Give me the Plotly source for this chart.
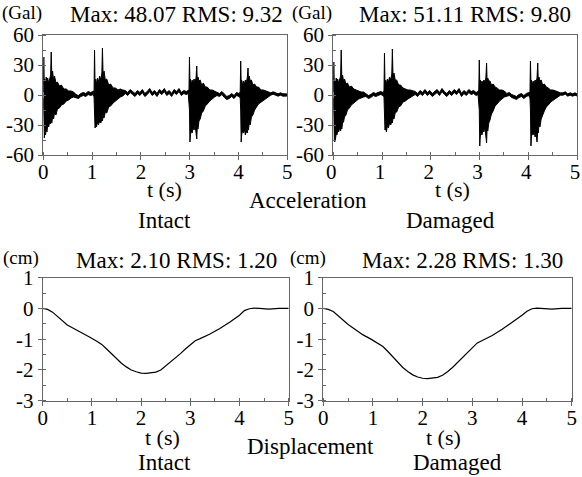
import plotly.graph_objects as go

W, H = 582, 477

# ---------------- acceleration data (envelope of the record, Gal) ----------------
t_b1 = [0.000, 0.010, 0.020, 0.030, 0.045, 0.060, 0.075, 0.090, 0.110, 0.130, 0.150, 0.162, 0.175,
        0.190, 0.210, 0.230, 0.260, 0.290, 0.330, 0.370, 0.420, 0.470, 0.520, 0.570, 0.620]
t_q1 = [0.67, 0.72, 0.77, 0.82, 0.87, 0.92, 0.97, 1.02]
t_b2 = [1.040, 1.050, 1.060, 1.075, 1.090, 1.110, 1.130, 1.155, 1.180, 1.200, 1.212, 1.225, 1.245,
        1.270, 1.300, 1.340, 1.380, 1.430, 1.480, 1.530, 1.580, 1.630]
t_q2 = [1.68, 1.73, 1.78, 1.83, 1.88, 1.93, 1.98, 2.03, 2.08, 2.13, 2.18, 2.23, 2.28, 2.33, 2.38,
        2.43, 2.48, 2.53, 2.58, 2.63, 2.68, 2.73, 2.78, 2.83, 2.88, 2.93, 2.97]
t_b3 = [2.985, 2.995, 3.005, 3.015, 3.030, 3.050, 3.070, 3.090, 3.110, 3.130, 3.145, 3.155, 3.170,
        3.190, 3.215, 3.245, 3.280, 3.320, 3.360, 3.410, 3.460, 3.510]
t_q3 = [3.56, 3.61, 3.66, 3.71, 3.76, 3.81, 3.86, 3.91, 3.96, 4.01]
t_b4 = [4.035, 4.045, 4.055, 4.065, 4.080, 4.100, 4.120, 4.140, 4.160, 4.180, 4.195, 4.205, 4.220,
        4.240, 4.265, 4.295, 4.330, 4.370, 4.410, 4.460, 4.510, 4.560, 4.610]
t_tail = [4.66, 4.71, 4.76, 4.81, 4.86, 4.91, 4.96, 5.00]
acc_t = t_b1 + t_q1 + t_b2 + t_q2 + t_b3 + t_q3 + t_b4 + t_tail

# Intact: upper / lower envelope
int_up = ([3, 38, 10, 16, 12, 18, 13, 17, 12, 16, 20, 43, 18, 24, 15, 19, 12, 13, 9, 10, 6, 6, 4, 4, 3]
          + [0.5, -0.5, 1.5, 2.5, 1.5, 3.5, 2.5, 3.5]
          + [4, 45, 12, 16, 11, 17, 13, 19, 15, 22, 47, 20, 24, 15, 16, 10, 11, 7, 7, 5, 6, 5]
          + [4.5, 2.5, 5.5, 3.5, 1.5, 4.5, 2.5, 5.5, 1.5, 3.5, 6.5, 2.5, 4.5, 1.5, 5.5, 3.5, 6.5, 2.5,
             4.5, 1.5, 5.5, 3.5, 6.5, 2.5, 4.5, 3.5, 4.5]
          + [5, 38, 12, 16, 10, 15, 12, 16, 13, 17, 29, 15, 18, 14, 15, 10, 12, 8, 8, 5, 5, 4]
          + [2.5, 1.5, 3.5, 0.5, -1.5, -0.5, 1.5, -0.5, 2.5, 1.5]
          + [3, 34, 12, 15, 10, 14, 11, 15, 13, 17, 27, 15, 19, 14, 15, 10, 11, 8, 8, 5, 5, 4, 3]
          + [2.2, 3.2, 2.2, 1.2, 2.2, 1.2, 1.2, 1.0])
int_lo = ([-3, -20, -43, -38, -40, -34, -37, -30, -32, -27, -29, -25, -28, -22, -24, -18, -20, -14,
           -13, -10, -9, -6, -5, -3, -2]
          + [-2.5, -3.5, -1.5, -0.5, -1.5, 0.5, -0.5, 0.5]
          + [-2, -15, -33, -30, -32, -27, -30, -26, -28, -24, -26, -22, -23, -17, -18, -12, -11, -8,
             -6, -4, -2, -1]
          + [1.5, -0.5, 2.5, 0.5, -1.5, 1.5, -0.5, 2.5, -1.5, 0.5, 3.5, -0.5, 1.5, -1.5, 2.5, 0.5,
             3.5, -0.5, 1.5, -1.5, 2.5, 0.5, 3.5, -0.5, 1.5, 0.5, 1.5]
          + [-2, -15, -47, -40, -36, -38, -33, -35, -30, -38, -44, -32, -34, -26, -24, -18, -16, -11,
             -9, -6, -4, -2]
          + [-0.5, -1.5, 0.5, -2.5, -4.5, -3.5, -1.5, -3.5, -0.5, -1.5]
          + [-3, -15, -47, -40, -36, -38, -34, -40, -36, -38, -33, -35, -28, -30, -22, -20, -15, -12,
             -9, -7, -5, -3, -2]
          + [-0.2, 0.8, -0.2, -1.2, -0.2, -1.2, -1.2, -1.0])

# Damaged: upper / lower envelope
dam_up = ([3, 33, 10, 15, 12, 17, 13, 16, 12, 15, 19, 45, 17, 20, 14, 16, 11, 12, 8, 9, 6, 5, 4, 3, 3]
          + [1.5, -0.5, 0.5, 2.5, 1.5, 2.5, 3.5, 2.5]
          + [4, 42, 12, 15, 11, 16, 13, 18, 15, 21, 46, 19, 22, 15, 15, 10, 10, 7, 6, 5, 5, 4]
          + [3.5, 1.5, 4.5, 2.5, 5.5, 2.5, 4.5, 1.5, 3.5, 5.5, 2.5, 6.5, 3.5, 1.5, 4.5, 2.5, 5.5, 3.5,
             6.5, 1.5, 4.5, 2.5, 5.5, 3.5, 4.5, 2.5, 3.5]
          + [5, 35, 12, 15, 10, 14, 12, 15, 13, 17, 32, 15, 17, 14, 14, 10, 11, 8, 7, 5, 5, 4]
          + [1.5, 2.5, 0.5, -0.5, -1.5, 0.5, 1.5, -0.5, 1.5, 2.5]
          + [3, 34, 12, 15, 10, 14, 11, 15, 13, 17, 32, 15, 18, 14, 15, 10, 11, 8, 7, 5, 5, 4, 3]
          + [2.2, 2.2, 3.2, 1.2, 2.2, 1.2, 2.2, 1.0])
dam_lo = ([-3, -20, -46, -47, -44, -38, -40, -35, -37, -33, -36, -32, -34, -28, -27, -22, -20, -15,
           -13, -10, -8, -6, -4, -3, -2]
          + [-1.5, -3.5, -2.5, -0.5, -1.5, -0.5, 0.5, -0.5]
          + [-2, -15, -35, -33, -37, -30, -33, -28, -30, -26, -28, -23, -24, -18, -17, -12, -11, -7,
             -6, -4, -2, -1]
          + [0.5, -1.5, 1.5, -0.5, 2.5, -0.5, 1.5, -1.5, 0.5, 2.5, -0.5, 3.5, 0.5, -1.5, 1.5, -0.5,
             2.5, 0.5, 3.5, -1.5, 1.5, -0.5, 2.5, 0.5, 1.5, -0.5, 0.5]
          + [-2, -15, -51, -42, -38, -40, -35, -37, -32, -40, -48, -34, -36, -28, -25, -19, -16, -11,
             -9, -6, -4, -2]
          + [-1.5, -0.5, -2.5, -3.5, -4.5, -2.5, -1.5, -3.5, -1.5, -0.5]
          + [-3, -15, -51, -42, -38, -40, -36, -42, -38, -47, -36, -38, -30, -32, -24, -21, -16, -12,
             -10, -7, -5, -3, -2]
          + [-0.2, -0.2, 0.8, -1.2, -0.2, -1.2, -0.2, -1.0])

# ---------------- displacement data (cm) ----------------
disp_t = [0.0, 0.1, 0.2, 0.35, 0.5, 0.65, 0.8, 0.95, 1.1, 1.2, 1.3, 1.4, 1.5, 1.6, 1.7, 1.8, 1.9, 2.0,
          2.1, 2.2, 2.3, 2.4, 2.5, 2.6, 2.7, 2.8, 2.9, 3.0, 3.1, 3.2, 3.4, 3.6, 3.8, 4.0, 4.1, 4.2,
          4.3, 4.4, 4.5, 4.6, 4.8, 5.0]
disp_intact = [0.0, -0.03, -0.12, -0.34, -0.54, -0.67, -0.79, -0.93, -1.07, -1.17, -1.32, -1.48,
               -1.64, -1.78, -1.90, -2.00, -2.06, -2.10, -2.11, -2.10, -2.07, -2.00, -1.87, -1.75,
               -1.61, -1.47, -1.32, -1.17, -1.05, -0.98, -0.83, -0.65, -0.45, -0.22, -0.07, -0.01,
               0.01, 0.0, -0.01, -0.02, 0.0, 0.0]
disp_damaged = [0.0, -0.03, -0.10, -0.32, -0.52, -0.69, -0.86, -0.99, -1.13, -1.24, -1.40, -1.58,
                -1.76, -1.92, -2.05, -2.16, -2.23, -2.27, -2.28, -2.27, -2.24, -2.17, -2.06, -1.92,
                -1.76, -1.58, -1.41, -1.25, -1.12, -1.04, -0.88, -0.68, -0.46, -0.22, -0.09, -0.01,
                0.01, 0.0, -0.02, -0.02, 0.0, 0.0]

x_ticks = [0, 1, 2, 3, 4, 5]
x_ticktext = ["0", "1", "2", "3", "4", "5"]
acc_ticks = [-60, -30, 0, 30, 60]
acc_ticktext = ["-60", "-30", "0", "30", "60"]
disp_ticks = [-3, -2, -1, 0, 1]
disp_ticktext = ["-3", "-2", "-1", "0", "1"]

FONT = "Liberation Serif, Times New Roman, serif"
AX = "#666666"


def px_x(p):
    return p / W


def px_y(p):
    return 1 - p / H


fig = go.Figure()


def band(t, up, lo, xa, ya):
    fig.add_trace(go.Scatter(
        x=t + t[::-1], y=up + lo[::-1], mode="lines", fill="toself",
        fillcolor="black", line=dict(color="black", width=1),
        xaxis=xa, yaxis=ya, showlegend=False, hoverinfo="skip"))


band(acc_t, int_up, int_lo, "x", "y")
band(acc_t, dam_up, dam_lo, "x2", "y2")
fig.add_trace(go.Scatter(x=disp_t, y=disp_intact, mode="lines", line=dict(color="black", width=1.2),
                         xaxis="x3", yaxis="y3", showlegend=False))
fig.add_trace(go.Scatter(x=disp_t, y=disp_damaged, mode="lines", line=dict(color="black", width=1.2),
                         xaxis="x4", yaxis="y4", showlegend=False))


def xaxis(dom, anchor, shift=0):
    return dict(domain=dom, anchor=anchor, range=[0, 5], tickvals=x_ticks, ticktext=x_ticktext,
                ticks="outside", ticklen=4, tickcolor=AX, showline=True, linecolor=AX,
                linewidth=1, mirror=True, showgrid=False, zeroline=False, automargin=False,
                ticklabelshift=shift, ticklabelstandoff=-6,
                tickfont=dict(family=FONT, size=21, color="black"),
                minor=dict(dtick=0.5, ticks="inside", ticklen=3, tickcolor=AX, showgrid=False))


def yaxis(dom, anchor, rng, vals, text, mdt):
    return dict(domain=dom, anchor=anchor, range=rng, tickvals=vals, ticktext=text,
                ticks="outside", ticklen=4, tickcolor=AX, showline=True, linecolor=AX,
                linewidth=1, mirror=True, showgrid=False, zeroline=False, automargin=False,
                ticklabelstandoff=0,
                tickfont=dict(family=FONT, size=21, color="black"),
                minor=dict(dtick=mdt, ticks="inside", ticklen=3, tickcolor=AX, showgrid=False))


top_y = [px_y(155), px_y(35)]
bot_y = [px_y(400.7), px_y(277.7)]

fig.update_layout(
    width=W, height=H, autosize=False,
    margin=dict(l=0, r=0, t=0, b=0, pad=0),
    paper_bgcolor="white", plot_bgcolor="white",
    xaxis=xaxis([px_x(43.3), px_x(287.3)], "y"),
    yaxis=yaxis(top_y, "x", [-60, 60], acc_ticks, acc_ticktext, 15),
    xaxis2=xaxis([px_x(333.3), px_x(577)], "y2", -2),
    yaxis2=yaxis(top_y, "x2", [-60, 60], acc_ticks, acc_ticktext, 15),
    xaxis3=xaxis([px_x(42.7), px_x(288.7)], "y3"),
    yaxis3=yaxis(bot_y, "x3", [-3, 1], disp_ticks, disp_ticktext, 0.5),
    xaxis4=xaxis([px_x(323.3), px_x(571.7)], "y4"),
    yaxis4=yaxis(bot_y, "x4", [-3, 1], disp_ticks, disp_ticktext, 0.5),
)

texts = [
    ("(Gal)", 22, 13, 19),
    ("Max: 48.07 RMS: 9.32", 176, 15, 23),
    ("(Gal)", 312, 13, 19),
    ("Max: 51.11 RMS: 9.80", 465, 15, 23),
    ("t (s)", 164, 189, 22),
    ("t (s)", 452, 189, 22),
    ("Acceleration", 308, 200, 23),
    ("Intact", 164, 220, 23),
    ("Damaged", 450, 220, 23),
    ("(cm)", 21, 258, 19),
    ("Max: 2.10 RMS: 1.20", 177, 260, 23),
    ("(cm)", 308, 258, 19),
    ("Max: 2.28 RMS: 1.30", 463, 260, 23),
    ("t (s)", 162, 437, 22),
    ("t (s)", 443, 437, 22),
    ("Displacement", 310, 446, 23),
    ("Intact", 164, 462, 23),
    ("Damaged", 457, 462, 23),
]
for txt, x, y, sz in texts:
    fig.add_annotation(text=txt, x=px_x(x), y=px_y(y), xref="paper", yref="paper",
                       xanchor="center", yanchor="middle", showarrow=False,
                       font=dict(family=FONT, size=sz, color="black"))

fig.write_html("out.html", config={"displayModeBar": False},
               post_script="document.body.style.margin='0px';document.body.style.padding='0px';")
